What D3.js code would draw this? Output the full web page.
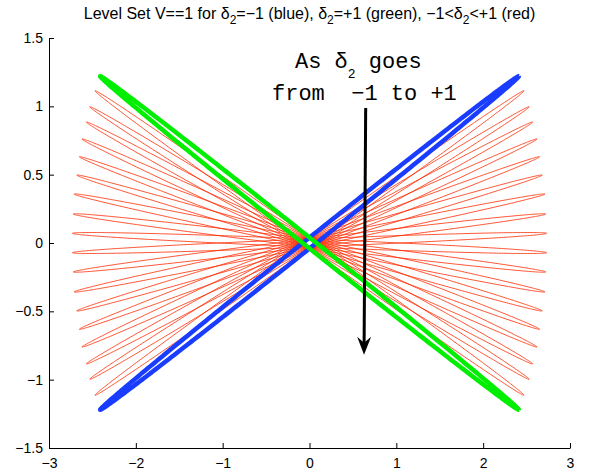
<!DOCTYPE html>
<html>
<head>
 <meta charset="utf-8"/>
 <script src="https://d3js.org/d3.v7.min.js"></script>
 <style>
  body { margin: 0; background: #fff; }
  .axis text { font-family: "Liberation Sans", Arial, sans-serif; font-size: 14px; fill: #000; }
  .axis path, .axis line { stroke: #000; stroke-width: 1; }
  text { white-space: pre; }
 </style>
</head>
<body>
 <div id="graph"></div>
 <script type="text/javascript">
   // level set tips (right-hand end of the major axis), delta2 from -1 to +1
   var tipX = [2.41, 2.47, 2.53, 2.57, 2.62, 2.65, 2.68, 2.71, 2.72, 2.73,
               2.73, 2.72, 2.71, 2.68, 2.65, 2.62, 2.57, 2.53, 2.47, 2.41];
   var tipY = [1.22, 1.114, 0.997, 0.885, 0.761, 0.631, 0.497, 0.358, 0.212, 0.071,
               -0.071, -0.212, -0.358, -0.497, -0.631, -0.761, -0.885, -0.997, -1.114, -1.22];
   // minor / major axis ratio of each ellipse
   var minorRatio = [0.016, 0.017, 0.017, 0.017, 0.017, 0.017, 0.017, 0.017, 0.017, 0.017,
                     0.017, 0.017, 0.017, 0.017, 0.017, 0.017, 0.017, 0.017, 0.017, 0.016];
   var xTicks = [-3, -2, -1, 0, 1, 2, 3];
   var yTicks = [-1.5, -1, -0.5, 0, 0.5, 1, 1.5];
   // annotation arrow (data coords)
   var arrowX = [0.647, 0.628];
   var arrowY = [0.988, -0.818];

   var width = 590, height = 475;
   var svg = d3.select("#graph").append("svg")
     .attr("width", width).attr("height", height);

   var x = d3.scaleLinear().domain([-3, 3]).range([49, 570]);
   var y = d3.scaleLinear().domain([-1.5, 1.5]).range([448, 38]);
   var sx = (x(1) - x(0)), sy = (y(0) - y(1));

   // ellipse through the tip, thin in screen space
   var ellipse = function(i) {
     var a = tipX[i], b = tipY[i], r = minorRatio[i];
     var c = b * sy / sx * r, d = -a * sx / sy * r;
     var pts = [];
     for (var k = 0; k <= 360; k++) {
       var t = k * Math.PI / 180;
       pts.push([Math.cos(t) * a + Math.sin(t) * c, Math.cos(t) * b + Math.sin(t) * d]);
     }
     return pts;
   };
   var line = d3.line().x(function(p){ return x(p[0]); }).y(function(p){ return y(p[1]); });

   var n = tipX.length;
   var reds = d3.range(1, n - 1);
   svg.append("g").selectAll("path").data(reds).enter().append("path")
     .attr("d", function(i){ return line(ellipse(i)); })
     .style("fill", "none").style("stroke", "#ff2a00").style("stroke-width", 0.8);
   svg.append("path").attr("d", line(ellipse(0)))
     .style("fill", "none").style("stroke", "#1a3cff").style("stroke-width", 4.5);
   svg.append("path").attr("d", line(ellipse(n - 1)))
     .style("fill", "none").style("stroke", "#00ee00").style("stroke-width", 4.5);

   // axes (matlab style, ticks inward)
   svg.append("g").attr("class", "axis")
     .attr("transform", "translate(0," + y(-1.5) + ")")
     .call(d3.axisBottom(x).tickValues(xTicks).tickSizeInner(-5).tickSizeOuter(0).tickPadding(10).tickFormat(d3.format("~g")));
   svg.append("g").attr("class", "axis")
     .attr("transform", "translate(" + x(-3) + ",0)")
     .call(d3.axisLeft(y).tickValues(yTicks).tickSizeInner(-5).tickSizeOuter(0).tickPadding(6).tickFormat(d3.format("~g")));

   // arrow
   var x0 = x(arrowX[0]), y0 = y(arrowY[0]), x1 = x(arrowX[1]), y1 = y(arrowY[1]);
   var ang = Math.atan2(y1 - y0, x1 - x0);
   svg.append("line").attr("x1", x0).attr("y1", y0)
     .attr("x2", x1 - 10 * Math.cos(ang)).attr("y2", y1 - 10 * Math.sin(ang))
     .style("stroke", "#000").style("stroke-width", 3);
   svg.append("path")
     .attr("d", "M0,0L-18,-7L-12,0L-18,7Z")
     .attr("transform", "translate(" + x1 + "," + y1 + ") rotate(" + (ang * 180 / Math.PI) + ")")
     .style("fill", "#000");

   // text helper: segments [text, sub?, back-up?]
   var addText = function(px, py, segs, family, size, subSize, shift, anchor) {
     var t = svg.append("text").attr("x", px).attr("y", py)
       .attr("xml:space", "preserve")
       .style("font-family", family).style("font-size", size + "px")
       .attr("text-anchor", anchor || "start");
     segs.forEach(function(s) {
       var ts = t.append("tspan").text(s[0]);
       if (s[1]) ts.attr("dy", shift).style("font-size", subSize + "px");
       else if (s[2]) ts.attr("dy", -shift);
     });
   };

   addText(309.5, 19,
     [["Level Set V==1 for "], ["δ"], ["2", 1], ["=−1 (blue), ", 0, 1], ["δ"], ["2", 1],
      ["=+1 (green), −1<", 0, 1], ["δ"], ["2", 1], ["<+1 (red)", 0, 1]],
     "'Liberation Sans', Arial, sans-serif", 16, 12, 5, "middle");

   var mono = "'Liberation Mono', 'Courier New', monospace";
   addText(x(-0.167), y(1.28), [["As "], ["δ"], ["2", 1], [" goes", 0, 1]], mono, 22, 13, 10);
   addText(x(-0.432), y(1.046), [["from  −1 to +1"]], mono, 22, 14, 12);
 </script>
</body>
</html>
